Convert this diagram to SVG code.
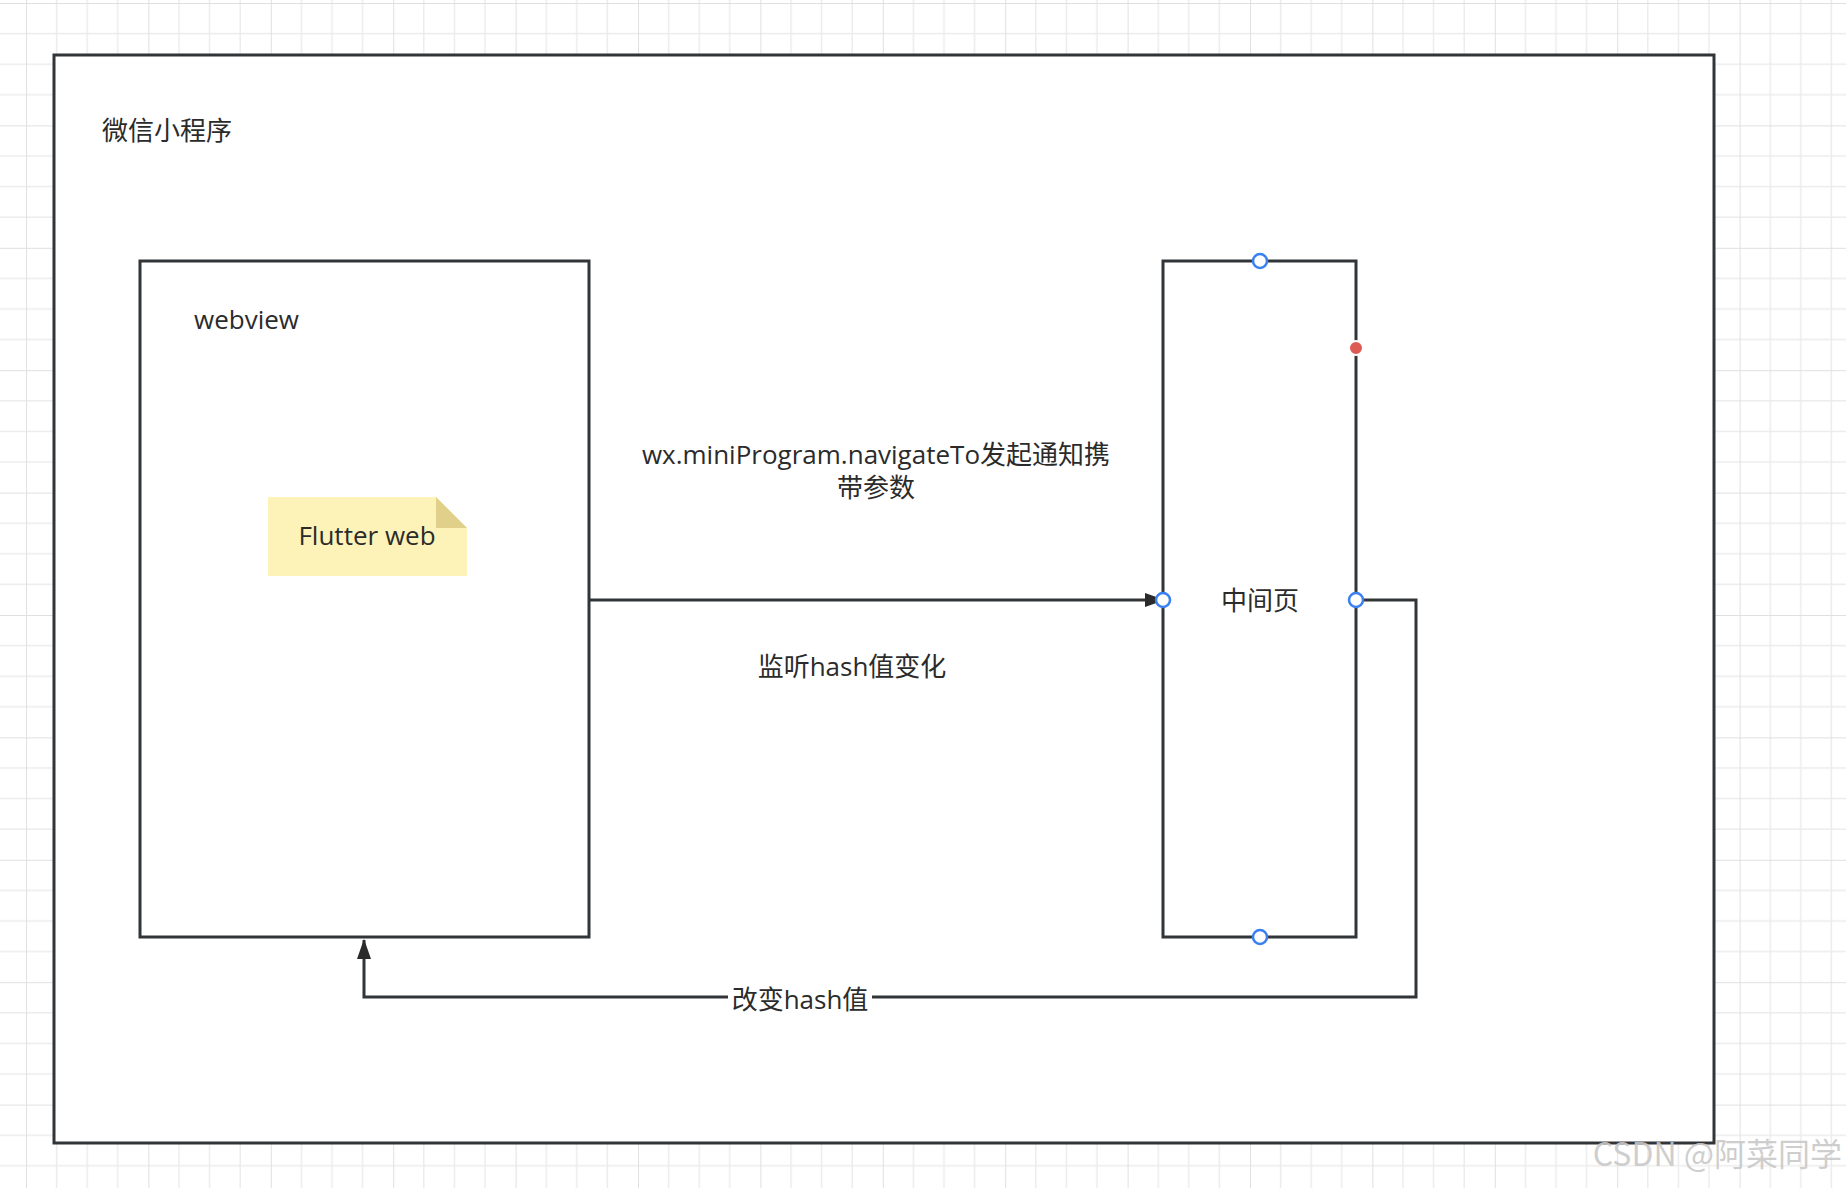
<svg xmlns="http://www.w3.org/2000/svg" width="1846" height="1188" viewBox="0 0 1846 1188">
<defs>
<pattern id="g" x="26" y="3" width="122.4" height="122.4" patternUnits="userSpaceOnUse">
<path d="M30.6 0V122.4M61.2 0V122.4M91.8 0V122.4M0 30.6H122.4M0 61.2H122.4M0 91.8H122.4" stroke="#ececec" stroke-width="1.5" fill="none"/>
<path d="M0 0V122.4M0 0H122.4" stroke="#e0e0e0" stroke-width="2" fill="none"/>
</pattern>
<marker id="ah" markerWidth="20" markerHeight="14" refX="16" refY="7" orient="auto" markerUnits="userSpaceOnUse"><path d="M0 0L20 7L0 14z" fill="#2b2b2b"/></marker>
<marker id="ah2" markerWidth="20" markerHeight="14" refX="19" refY="7" orient="auto" markerUnits="userSpaceOnUse"><path d="M0 0L20 7L0 14z" fill="#2b2b2b"/></marker>
</defs>
<style>
.box{fill:#fff;stroke:#323538;stroke-width:3}
.t{font-family:"Open Sans","Noto Sans CJK SC",sans-serif;fill:#2b2b2b;font-size:26px}
.ln{fill:none;stroke:#323538;stroke-width:3}
.port{fill:#fff;stroke:#3a80f0;stroke-width:2.5}
</style>
<rect width="1846" height="1188" fill="#fff"/>
<rect width="1846" height="1188" fill="url(#g)"/>
<g id="miniprogram">
<rect class="box" x="54" y="55" width="1660" height="1088"/>
<text class="t" x="102" y="140" font-size="25">微信小程序</text>
</g>
<g id="webview">
<rect class="box" x="140" y="261" width="449" height="676"/>
<text class="t" x="194" y="329">webview</text>
</g>
<g id="flutter">
<path d="M268 497H436L467 528V576H268Z" fill="#fdf3b8"/>
<path d="M436 497L467 528H436Z" fill="#e0d08a"/>
<text class="t" x="367" y="545" text-anchor="middle">Flutter web</text>
</g>
<g id="middle">
<rect class="box" x="1163" y="261" width="193" height="676"/>
<text class="t" x="1260" y="610" text-anchor="middle">中间页</text>
</g>
<g id="connectors">
<path class="ln" d="M589 600H1161" marker-end="url(#ah)"/>
<path class="ln" d="M1356 600H1416V997H364V940" marker-end="url(#ah2)"/>
<rect x="728" y="982" width="144" height="34" fill="#fff"/>
<text class="t" x="800" y="1009" text-anchor="middle">改变hash值</text>
<text class="t" x="876" y="464" text-anchor="middle">wx.miniProgram.navigateTo发起通知携</text>
<text class="t" x="876" y="497" text-anchor="middle">带参数</text>
<text class="t" x="852" y="676" text-anchor="middle">监听hash值变化</text>
</g>
<g id="ports">
<circle class="port" cx="1260" cy="261" r="7"/>
<circle class="port" cx="1260" cy="937" r="7"/>
<circle class="port" cx="1163" cy="600" r="7"/>
<circle class="port" cx="1356" cy="600" r="7"/>
<circle cx="1356" cy="348" r="7" fill="#dd5a55" stroke="#fff" stroke-width="2"/>
</g>
<text x="1842" y="1166" text-anchor="end" font-family="'Noto Sans CJK SC',sans-serif" font-size="32" fill="#c8c8c8" fill-opacity="0.9">CSDN @阿菜同学</text>
</svg>
